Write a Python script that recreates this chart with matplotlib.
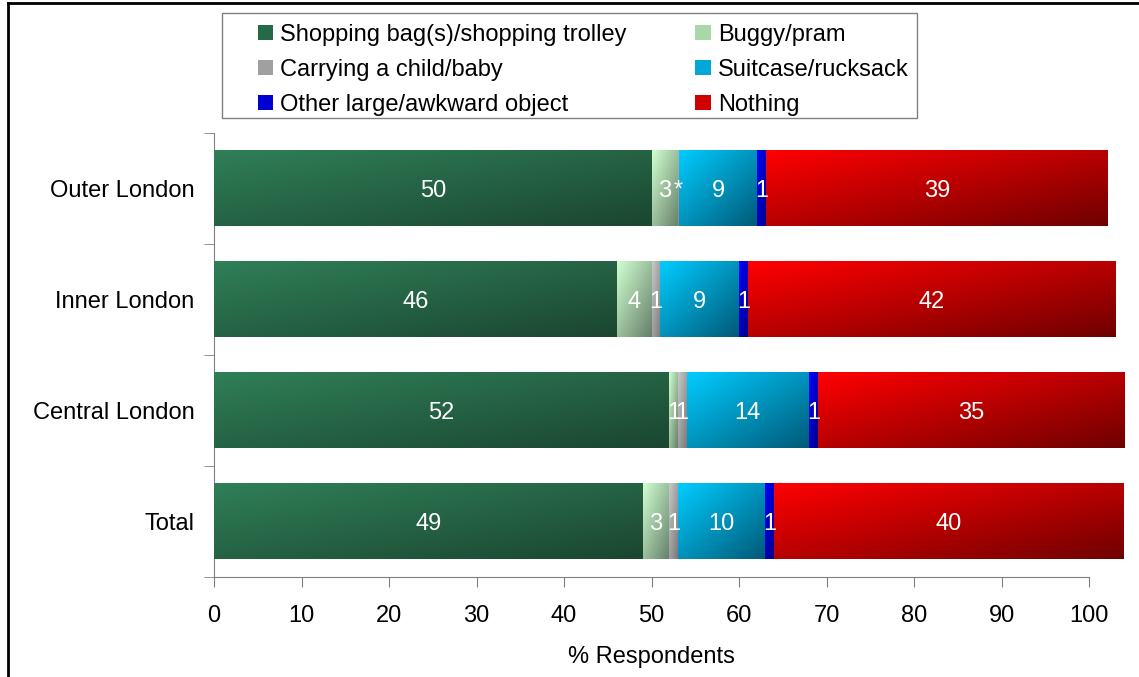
import matplotlib.pyplot as plt
import numpy as np
from matplotlib.lines import Line2D
from matplotlib.patches import Patch, Rectangle
from matplotlib.colors import to_rgb

plt.rcParams['font.family'] = ['Liberation Sans', 'DejaVu Sans']

# data, bottom to top
areas = ['Total', 'Central London', 'Inner London', 'Outer London']
shopping = [49, 52, 46, 50]
buggy = [3, 1, 4, 3]
child = [1, 1, 1, 0.1]
suitcase = [10, 14, 9, 9]
other = [1, 1, 1, 1]
nothing = [40, 35, 42, 39]
child_labels = ['1', '1', '1', '*']

series_names = ['Shopping bag(s)/shopping trolley', 'Buggy/pram', 'Carrying a child/baby',
                'Suitcase/rucksack', 'Other large/awkward object', 'Nothing']
series_vals = [shopping, buggy, child, suitcase, other, nothing]
# light (top-left) -> dark (bottom-right) gradient colours
grad = [('#2f7f57', '#1b4630'),
        ('#d0ffd0', '#66806a'),
        ('#c8c8c8', '#7a7a7a'),
        ('#00ccff', '#005a78'),
        ('#0000ff', '#000088'),
        ('#ff0000', '#700000')]
legend_cols = ['#256a47', '#a8d8a8', '#a0a0a0', '#00a8d8', '#0000d0', '#d00000']

FS = 17
W, H = 1139, 677
fig = plt.figure(figsize=(W / 100, H / 100), dpi=100)
ax = fig.add_axes([214 / W, (H - 577) / H, (1089 - 214) / W, (577 - 133) / H])

y = np.arange(len(areas))
left = np.zeros(len(areas))
u, v = np.meshgrid(np.linspace(0, 1, 80), np.linspace(0, 1, 30))
t = (u + v) / 2

for i, (name, vals) in enumerate(zip(series_names, series_vals)):
    c0 = np.array(to_rgb(grad[i][0]))
    c1 = np.array(to_rgb(grad[i][1]))
    bars = ax.barh(y, vals, left=left, height=0.68, color=grad[i][1], clip_on=False, zorder=2)
    img = c0[None, None, :] * (1 - t[..., None]) + c1[None, None, :] * t[..., None]
    for j, b in enumerate(bars):
        x0, y0 = b.get_x(), b.get_y()
        ax.imshow(img, extent=(x0, x0 + b.get_width(), y0, y0 + b.get_height()),
                  origin='upper', aspect='auto', interpolation='bilinear',
                  clip_on=False, zorder=3)
        if i == 2:
            lab = child_labels[j]
        else:
            lab = str(int(round(vals[j])))
        ax.text(left[j] + vals[j] / 2, y[j], lab, color='white', fontsize=FS,
                ha='center', va='center_baseline', zorder=4, clip_on=False)
    left = left + np.array(vals)

ax.set_xlim(0, 100)
ax.set_ylim(-0.5, len(areas) - 0.5)
ax.set_xticks(np.arange(0, 101, 10))
ax.set_yticks(y)
ax.set_yticklabels(areas, fontsize=FS, va='center_baseline')
ax.set_yticks(np.arange(-0.5, len(areas), 1), minor=True)
ax.tick_params(axis='y', which='major', length=0, pad=14)
ax.tick_params(axis='y', which='minor', length=7, color='#808080', direction='out')
ax.tick_params(axis='x', length=7, color='#808080', labelsize=FS, pad=13)
ax.set_xlabel('% Respondents', fontsize=FS, labelpad=14)
for s in ['top', 'right']:
    ax.spines[s].set_visible(False)
for s in ['left', 'bottom']:
    ax.spines[s].set_color('#808080')

# legend
handles = [Patch(facecolor=c, edgecolor='none') for c in legend_cols]
order = [0, 2, 4, 1, 3, 5]
fig.legend([handles[k] for k in order], [series_names[k] for k in order],
           ncol=2, loc='upper left', bbox_to_anchor=(246 / W, 1 - 12 / H),
           frameon=False, borderpad=0, fontsize=FS, labelspacing=0.55,
           handlelength=0.65, handleheight=0.65, handletextpad=0.3, columnspacing=2.9)
fig.patches.append(Rectangle((222 / W, (H - 118) / H), (917 - 222) / W, 105 / H,
                             fill=False, edgecolor='#808080', linewidth=1,
                             transform=fig.transFigure))

# outer frame
fig.add_artist(Line2D([8 / W, 8 / W], [0, 1 - 3 / H], color='black', lw=2))
fig.add_artist(Line2D([8 / W, 1], [1 - 3 / H, 1 - 3 / H], color='black', lw=2))

plt.savefig('out.png', dpi=100)
